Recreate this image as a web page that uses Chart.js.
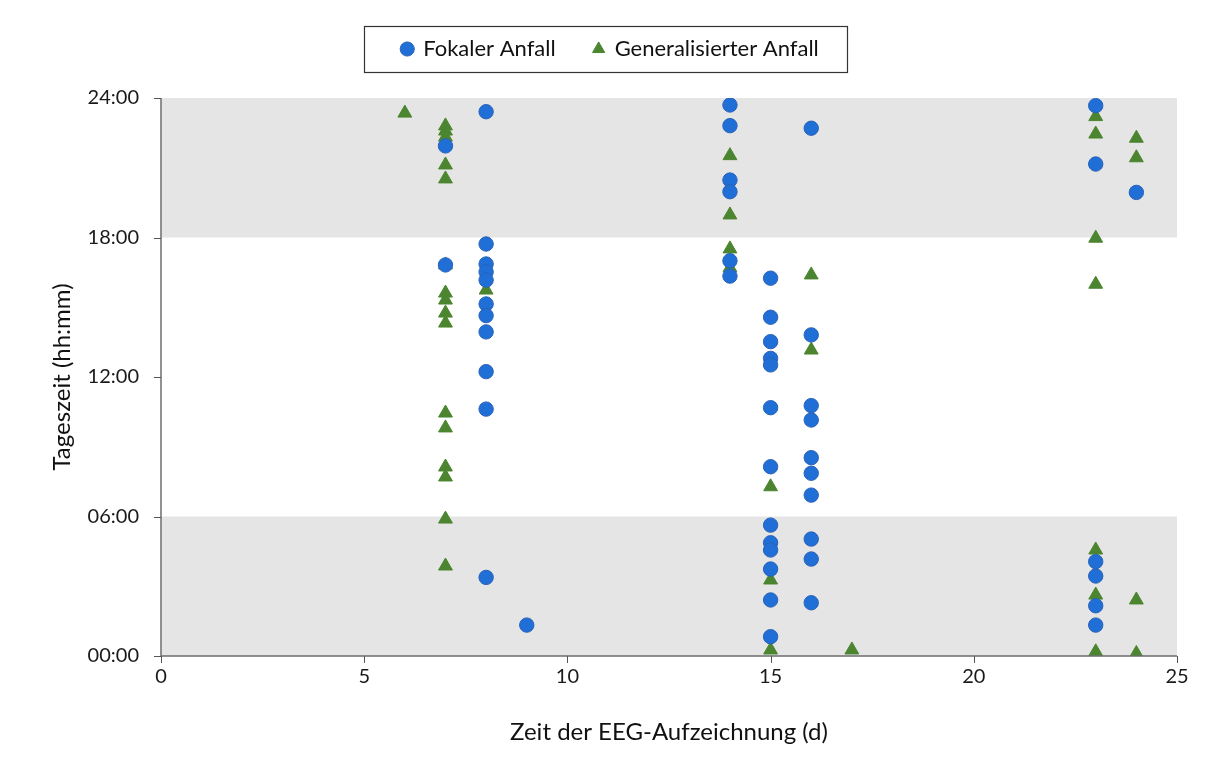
<!DOCTYPE html>
<html>
<head>
<meta charset="utf-8">
<script src="https://cdn.jsdelivr.net/npm/chart.js@4/dist/chart.umd.min.js"></script>
<style>
html,body{margin:0;padding:0;background:#fff;}
#wrap{width:1215px;height:769px;}
</style>
</head>
<body>
<div id="wrap"><canvas id="c" width="1215" height="769"></canvas></div>
<script>
// Focal seizures: day of EEG recording and time of day (hours)
const focalDays = [
  7,7,
  8,8,8,8,8,8,8,8,8,8,8,
  9,
  14,14,14,14,14,14,
  15,15,15,15,15,15,15,15,15,15,15,15,15,
  16,16,16,16,16,16,16,16,16,16,
  23,23,23,23,23,23,
  24];
const focalHours = [
  21.94,16.82,
  23.41,17.72,16.86,16.52,16.17,15.14,14.64,13.94,12.23,10.62,3.38,
  1.33,
  23.70,22.81,20.47,19.97,17.00,16.34,
  16.25,14.57,13.52,12.80,12.52,10.68,8.14,5.63,4.87,4.56,3.74,2.41,0.83,
  22.70,13.81,10.77,10.15,8.53,7.86,6.92,5.03,4.17,2.29,
  23.67,21.16,4.06,3.44,2.16,1.33,
  19.94];
// Generalized seizures
const genDays = [
  6,
  7,7,7,7,7,7,7,7,7,7,7,7,7,7,7,7,
  8,
  14,14,14,14,
  15,15,15,
  16,16,
  17,
  23,23,23,23,23,23,23,
  24,24,24,24];
const genHours = [
  23.35,
  22.80,22.58,22.32,21.12,20.52,16.82,15.61,15.31,14.75,14.32,10.45,9.81,8.13,7.70,5.89,3.87,
  15.74,
  21.52,18.97,17.51,16.70,
  7.28,3.27,0.26,
  16.39,13.16,
  0.26,
  23.20,22.45,17.97,15.99,4.56,2.62,0.18,
  22.27,21.43,2.41,0.11];
// Shaded night periods (hours)
const nightBands = [[0,6],[18,24]];
const xTicks = [0,5,10,15,20,25];
const yTicks = [0,6,12,18,24];
const seriesNames = ['Fokaler Anfall','Generalisierter Anfall'];

const focalPts = focalDays.map((d,i)=>({x:d,y:focalHours[i]}));
const genPts = genDays.map((d,i)=>({x:d,y:genHours[i]}));

const FONT = 'Lato, "Open Sans", sans-serif';

const legendHeight = {
  id:'legendHeight',
  beforeInit(chart){
    const lg = chart.legend;
    if(!lg) return;
    const orig = lg.fit;
    lg.fit = function(){ orig.call(this); this.height = 98; };
  }
};
const bandPlugin = {
  id:'bands',
  beforeDatasetsDraw(chart){
    const {ctx, chartArea, scales:{y}} = chart;
    ctx.save();
    ctx.fillStyle = '#e5e5e5';
    nightBands.forEach(([a,b])=>{
      const y1 = y.getPixelForValue(b), y2 = y.getPixelForValue(a);
      ctx.fillRect(chartArea.left, y1, chartArea.right-chartArea.left, y2-y1);
    });
    ctx.restore();
  }
};
const axisPlugin = {
  id:'axlines',
  afterDatasetsDraw(chart){
    const {ctx, chartArea, scales:{x,y}} = chart;
    ctx.save();
    ctx.strokeStyle = '#6e6e6e';
    ctx.lineWidth = 1.5;
    ctx.beginPath();
    ctx.moveTo(chartArea.left, chartArea.top);
    ctx.lineTo(chartArea.left, chartArea.bottom);
    ctx.lineTo(chartArea.right, chartArea.bottom);
    ctx.stroke();
    ctx.lineWidth = 1;
    ctx.strokeStyle = '#555';
    xTicks.forEach(v=>{
      const px = Math.round(x.getPixelForValue(v))+0.5;
      ctx.beginPath(); ctx.moveTo(px, chartArea.bottom); ctx.lineTo(px, chartArea.bottom+7); ctx.stroke();
    });
    yTicks.forEach(v=>{
      const py = Math.round(y.getPixelForValue(v))+0.5;
      ctx.beginPath(); ctx.moveTo(chartArea.left-7, py); ctx.lineTo(chartArea.left, py); ctx.stroke();
    });
    ctx.restore();
  }
};
const legendBox = {
  id:'legendBox',
  afterDraw(chart){
    const lg = chart.legend;
    if(!lg || !lg.legendHitBoxes || !lg.legendHitBoxes.length) return;
    const hb = lg.legendHitBoxes;
    const minX = Math.min(...hb.map(h=>h.left));
    const maxX = Math.max(...hb.map(h=>h.left+h.width));
    const cy = hb[0].top + hb[0].height/2;
    const ctx = chart.ctx;
    ctx.save();
    ctx.strokeStyle = '#333';
    ctx.lineWidth = 1.2;
    ctx.strokeRect(Math.round(minX-38)+0.5, Math.round(cy-23)+0.5, Math.round(maxX-minX+38+28), 46);
    ctx.restore();
  }
};

new Chart(document.getElementById('c'), {
  type:'scatter',
  data:{
    datasets:[
      {label:seriesNames[0], data:focalPts, pointStyle:'circle', pointRadius:7.2, pointHoverRadius:7.2,
       backgroundColor:'#1f6fd6', borderColor:'#2a62b8', borderWidth:1},
      {label:seriesNames[1], data:genPts, pointStyle:'triangle', pointRadius:8, pointHoverRadius:8,
       backgroundColor:'#4c8530', borderColor:'#4c8530', borderWidth:1}
    ]
  },
  options:{
    responsive:false,
    animation:false,
    layout:{padding:{top:0,right:38,bottom:18,left:44}},
    plugins:{
      tooltip:{enabled:false},
      legend:{
        position:'top',
        labels:{
          usePointStyle:true, boxWidth:10, boxHeight:10,
          font:{family:FONT, size:22}, color:'#111', padding:38
        }
      }
    },
    scales:{
      x:{
        type:'linear', min:0, max:25,
        afterBuildTicks(s){ s.ticks = xTicks.map(v=>({value:v})); },
        afterFit(s){ s.height = 95; },
        grid:{display:false, drawTicks:false},
        border:{display:false},
        ticks:{font:{family:FONT,size:20}, color:'#1a1a1a', padding:9},
        title:{display:true, text:'Zeit der EEG-Aufzeichnung (d)', font:{family:FONT,size:24}, color:'#111', padding:{top:4,bottom:4}}
      },
      y:{
        type:'linear', min:0, max:24,
        afterBuildTicks(s){ s.ticks = yTicks.map(v=>({value:v})); },
        afterFit(s){ s.width = 161-44; },
        grid:{display:false, drawTicks:false},
        border:{display:false},
        ticks:{font:{family:FONT,size:20}, color:'#1a1a1a', padding:22,
          callback:v=>String(v).padStart(2,'0')+':00'},
        title:{display:true, text:'Tageszeit (hh:mm)', font:{family:FONT,size:24}, color:'#111', padding:{top:4,bottom:4}}
      }
    }
  },
  plugins:[legendHeight, bandPlugin, axisPlugin, legendBox]
});
</script>
</body>
</html>
